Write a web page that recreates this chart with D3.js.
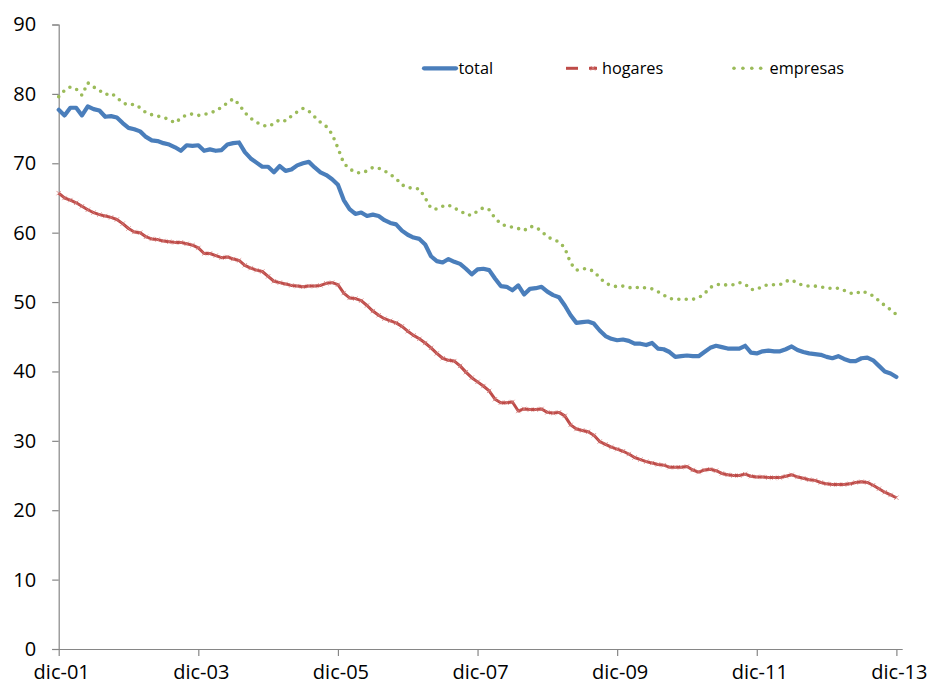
<!DOCTYPE html>
<html>
<head>
<meta charset="utf-8">
<script src="https://cdn.jsdelivr.net/npm/d3@7"></script>
<style>
  html, body { margin: 0; padding: 0; background: #fff; }
  svg { display: block; }
  text { font-family: "Open Sans", "Noto Sans", sans-serif; fill: #000; }
</style>
</head>
<body>
<svg id="chart" width="930" height="689"></svg>
<script>
// Monthly series, dic-01 .. dic-13 (145 months)
const total = [
  77.7, 76.9, 78.0, 78.0, 76.9, 78.2, 77.8, 77.6, 76.7, 76.8,
  76.6, 75.8, 75.1, 74.9, 74.6, 73.8, 73.3, 73.2, 72.9, 72.7,
  72.3, 71.8, 72.6, 72.5, 72.6, 71.8, 72.0, 71.8, 71.9, 72.7,
  72.9, 73.0, 71.6, 70.7, 70.1, 69.5, 69.5, 68.7, 69.6, 68.9,
  69.1, 69.7, 70.0, 70.2, 69.4, 68.7, 68.3, 67.7, 66.9, 64.7,
  63.4, 62.7, 62.9, 62.4, 62.6, 62.4, 61.8, 61.4, 61.2, 60.3,
  59.7, 59.3, 59.1, 58.3, 56.6, 55.9, 55.7, 56.2, 55.8, 55.5,
  54.8, 54.0, 54.7, 54.8, 54.6, 53.4, 52.3, 52.2, 51.7, 52.4,
  51.1, 51.9, 52.0, 52.2, 51.5, 51.0, 50.7, 49.5, 48.1, 47.0,
  47.1, 47.2, 46.9, 45.9, 45.1, 44.7, 44.5, 44.6, 44.4, 44.0,
  44.0, 43.8, 44.1, 43.3, 43.2, 42.8, 42.1, 42.2, 42.3, 42.2,
  42.2, 42.8, 43.4, 43.7, 43.5, 43.3, 43.3, 43.3, 43.7, 42.7,
  42.6, 42.9, 43.0, 42.9, 42.9, 43.2, 43.6, 43.1, 42.8, 42.6,
  42.5, 42.4, 42.1, 41.9, 42.2, 41.8, 41.5, 41.5, 41.9, 42.0,
  41.6, 40.8, 40.0, 39.7, 39.2
];

const hogares = [
  65.7, 65.0, 64.7, 64.3, 63.8, 63.3, 62.9, 62.6, 62.4, 62.2,
  61.9, 61.3, 60.6, 60.1, 60.0, 59.4, 59.1, 59.0, 58.8, 58.7,
  58.6, 58.6, 58.4, 58.2, 57.8, 57.0, 57.0, 56.7, 56.4, 56.5,
  56.2, 56.0, 55.3, 54.9, 54.6, 54.4, 53.7, 53.0, 52.8, 52.6,
  52.4, 52.3, 52.2, 52.3, 52.3, 52.4, 52.7, 52.8, 52.5, 51.3,
  50.6, 50.5, 50.2, 49.5, 48.7, 48.1, 47.6, 47.3, 47.0, 46.5,
  45.8, 45.2, 44.7, 44.1, 43.4, 42.6, 41.9, 41.6, 41.5, 40.8,
  39.9, 39.1, 38.5, 37.9, 37.2, 36.0, 35.5, 35.5, 35.6, 34.3,
  34.6, 34.5, 34.5, 34.6, 34.1, 34.0, 34.1, 33.6, 32.3, 31.7,
  31.5, 31.3, 30.8, 29.9, 29.5, 29.1, 28.8, 28.5, 28.1, 27.6,
  27.3, 27.0, 26.8, 26.6, 26.5, 26.2, 26.2, 26.2, 26.3, 25.8,
  25.5, 25.8, 25.9, 25.7, 25.3, 25.1, 25.0, 25.0, 25.2, 24.9,
  24.8, 24.8, 24.7, 24.7, 24.7, 24.9, 25.1, 24.8, 24.6, 24.4,
  24.3, 24.0, 23.8, 23.7, 23.7, 23.7, 23.8, 24.0, 24.1, 24.0,
  23.6, 23.1, 22.6, 22.2, 21.8
];

const empresas = [
  79.6, 80.5, 81.0, 80.7, 79.8, 81.6, 81.0, 80.5, 79.9, 80.1,
  79.5, 78.7, 78.4, 78.5, 78.0, 77.3, 77.0, 76.8, 76.6, 76.3,
  75.8, 76.5, 77.0, 77.1, 76.9, 77.0, 77.3, 77.5, 78.1, 78.7,
  79.3, 78.5, 77.3, 76.5, 75.9, 75.5, 75.3, 75.7, 76.3, 76.1,
  76.8, 77.4, 77.9, 77.5, 76.7, 75.9, 75.3, 74.2, 72.2, 70.0,
  69.2, 68.7, 68.6, 68.9, 69.4, 69.3, 68.9, 68.4, 67.8, 66.9,
  66.5, 66.4, 66.3, 65.0, 63.5, 63.4, 63.8, 64.0, 63.5, 63.2,
  62.6, 62.5, 63.1, 63.6, 63.3, 62.1, 61.3, 60.9, 60.8, 60.6,
  60.3, 60.9, 60.8, 60.2, 59.4, 59.0, 58.7, 57.8, 55.6, 54.6,
  54.8, 54.8, 54.4, 53.5, 52.7, 52.4, 52.2, 52.3, 52.1, 52.0,
  52.2, 52.0, 51.9, 51.5, 51.0, 50.5, 50.4, 50.4, 50.4, 50.4,
  50.6, 51.2, 52.1, 52.5, 52.6, 52.4, 52.5, 52.8, 52.6, 51.8,
  51.8, 52.3, 52.5, 52.5, 52.5, 53.0, 53.2, 52.7, 52.4, 52.3,
  52.3, 52.2, 52.0, 52.0, 52.0, 51.7, 51.3, 51.2, 51.6, 51.3,
  50.9, 50.2, 49.5, 48.9, 48.2
];

// x-axis labels every 24 months, starting at dic-01
const tickLabels = ["dic-01", "dic-03", "dic-05", "dic-07", "dic-09", "dic-11", "dic-13"];
const yTicks = [0, 10, 20, 30, 40, 50, 60, 70, 80, 90];
const seriesNames = ["total", "hogares", "empresas"];

const colors = { total: "#4A7EBB", hogares: "#BE4B48", empresas: "#9BBB59" };
const axisColor = "#868686";

const svg = d3.select("#chart");

// Monthly index scale; the axis runs one month past the last point
const nMonths = total.length;
const x = d3.scaleLinear().domain([0, nMonths]).range([58.7, 902.2]);
const y = d3.scaleLinear().domain([0, 90]).range([649, 24.5]);

// y axis
const yAxis = svg.append("g")
  .attr("transform", `translate(${x(0)},0)`)
  .call(d3.axisLeft(y).tickValues(yTicks).tickSize(6.5).tickPadding(16).tickFormat(d3.format("d")));
yAxis.select(".domain").attr("stroke", axisColor).attr("stroke-width", 1.2);
yAxis.selectAll(".tick line").attr("stroke", axisColor).attr("stroke-width", 1.2);
yAxis.selectAll(".tick text")
  .attr("font-size", 20).attr("fill", "#000")
  .style("font-family", '"Open Sans", sans-serif');

// x axis
const xTickValues = tickLabels.map((_, i) => i * 24);
const xAxis = svg.append("g")
  .attr("transform", `translate(0,${y(0)})`)
  .call(d3.axisBottom(x).tickValues(xTickValues).tickSize(7).tickSizeOuter(0)
    .tickPadding(9).tickFormat((d, i) => tickLabels[i]));
xAxis.select(".domain").attr("stroke", axisColor).attr("stroke-width", 1.2);
xAxis.selectAll(".tick line").attr("stroke", axisColor).attr("stroke-width", 1.2);
xAxis.selectAll(".tick text")
  .attr("font-size", 20).attr("fill", "#000").attr("dx", 2.5)
  .style("font-family", '"Open Sans", sans-serif');

const line = d3.line().x((d, i) => x(i)).y(d => y(d));

// hogares: red line with small cross markers
svg.append("path")
  .datum(hogares)
  .attr("d", line)
  .attr("fill", "none")
  .attr("stroke", colors.hogares)
  .attr("stroke-width", 3)
  .attr("stroke-linejoin", "round");
svg.append("g").selectAll("path")
  .data(hogares)
  .join("path")
  .attr("d", d3.symbol(d3.symbolTimes, 14))
  .attr("transform", (d, i) => `translate(${x(i)},${y(d)})`)
  .attr("fill", "none")
  .attr("stroke", "#D27A78")
  .attr("stroke-width", 1)
  .attr("opacity", 0.8);

// empresas: green round-dot line
svg.append("path")
  .datum(empresas)
  .attr("d", line)
  .attr("fill", "none")
  .attr("stroke", colors.empresas)
  .attr("stroke-width", 3.6)
  .attr("stroke-linecap", "round")
  .attr("stroke-dasharray", "0 7.4");

// total: thick blue line
svg.append("path")
  .datum(total)
  .attr("d", line)
  .attr("fill", "none")
  .attr("stroke", colors.total)
  .attr("stroke-width", 4.2)
  .attr("stroke-linejoin", "round")
  .attr("stroke-linecap", "round");

// legend
const legY = 68.3;
const leg = svg.append("g");

leg.append("line")
  .attr("x1", 424).attr("x2", 456).attr("y1", legY).attr("y2", legY)
  .attr("stroke", colors.total).attr("stroke-width", 4.2).attr("stroke-linecap", "round");

leg.append("line")
  .attr("x1", 566).attr("x2", 578).attr("y1", legY).attr("y2", legY)
  .attr("stroke", colors.hogares).attr("stroke-width", 3);
leg.append("line")
  .attr("x1", 589).attr("x2", 597).attr("y1", legY).attr("y2", legY)
  .attr("stroke", colors.hogares).attr("stroke-width", 3);
leg.append("path")
  .attr("d", d3.symbol(d3.symbolTimes, 14))
  .attr("transform", `translate(593,${legY})`)
  .attr("fill", "none").attr("stroke", "#D27A78").attr("stroke-width", 1);

leg.selectAll("circle.dot")
  .data([0, 1, 2, 3])
  .join("circle")
  .attr("class", "dot")
  .attr("cx", d => 734 + d * 8.9)
  .attr("cy", legY)
  .attr("r", 1.8)
  .attr("fill", colors.empresas);

const legText = [458.5, 602, 769.5];
leg.selectAll("text")
  .data(seriesNames)
  .join("text")
  .attr("x", (d, i) => legText[i])
  .attr("y", 74.3)
  .attr("font-size", 16.3)
  .text(d => d);
</script>
</body>
</html>
